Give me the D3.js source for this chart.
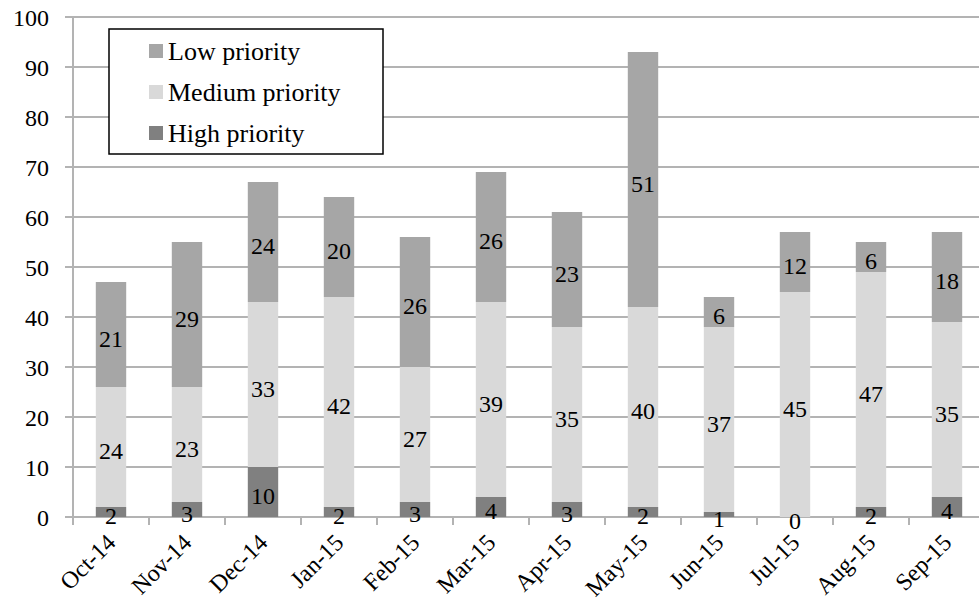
<!DOCTYPE html>
<html>
<head>
<meta charset="utf-8">
<script src="https://cdn.jsdelivr.net/npm/d3@7"></script>
<style>
  @font-face {
    font-family: "ChartSerif";
    src: local("Liberation Serif"), local("LiberationSerif"), local("LiberationSerif-Regular"), local("Times New Roman");
  }
  body { margin: 0; }
  svg { display: block; }
  svg text { font-family: "Liberation Serif", "ChartSerif", "Times New Roman", Tinos, serif !important; }
</style>
</head>
<body>
<svg id="chart" width="979" height="609"></svg>
<script>
// Monthly ticket counts by priority
const months = ["Oct-14","Nov-14","Dec-14","Jan-15","Feb-15","Mar-15","Apr-15","May-15","Jun-15","Jul-15","Aug-15","Sep-15"];
const highPriority   = [2, 3, 10, 2, 3, 4, 3, 2, 1, 0, 2, 4];
const mediumPriority = [24, 23, 33, 42, 27, 39, 35, 40, 37, 45, 47, 35];
const lowPriority    = [21, 29, 24, 20, 26, 26, 23, 51, 6, 12, 6, 18];
const yTicks = [0, 10, 20, 30, 40, 50, 60, 70, 80, 90, 100];

const seriesDefs = [
  { key: "high",   name: "High priority",   values: highPriority,   color: "#808080" },
  { key: "medium", name: "Medium priority", values: mediumPriority, color: "#d9d9d9" },
  { key: "low",    name: "Low priority",    values: lowPriority,    color: "#a6a6a6" }
];

const table = months.map((m, i) => {
  const row = { month: m };
  seriesDefs.forEach(s => row[s.key] = s.values[i]);
  return row;
});

// Ask for the serif face up front so it is ready when labels are laid out
if (document.fonts && document.fonts.load) {
  document.fonts.load('24px "Liberation Serif"');
  document.fonts.load('24px "ChartSerif"');
}

const svg = d3.select("#chart");
const plot = { left: 73, top: 17, bottom: 517, right: 985 };
const gridColor = "#b3b3b3";

const x = d3.scaleBand().domain(months).range([plot.left, plot.right]).paddingInner(0.6).paddingOuter(0.3);
const xOuter = d3.scaleBand().domain(months).range([plot.left, plot.right]).padding(0);
const y = d3.scaleLinear().domain([0, 100]).range([plot.bottom, plot.top]);

function serifText(sel, size) {
  return sel
    .style("font-family", '"Liberation Serif", "ChartSerif", "Times New Roman", Tinos, serif')
    .attr("font-size", size)
    .attr("fill", "#000");
}

// Horizontal gridlines
svg.append("g")
  .selectAll("line")
  .data(yTicks)
  .join("line")
  .attr("x1", plot.left - 8).attr("x2", 979)
  .attr("y1", d => y(d)).attr("y2", d => y(d))
  .attr("stroke", gridColor).attr("stroke-width", 2);

// Y axis line and labels
svg.append("line")
  .attr("x1", plot.left).attr("x2", plot.left).attr("y1", plot.top).attr("y2", plot.bottom + 8)
  .attr("stroke", gridColor).attr("stroke-width", 2);

svg.append("g")
  .selectAll("text")
  .data(yTicks)
  .join("text")
  .attr("x", 49).attr("y", d => y(d))
  .attr("dy", "0.36em")
  .attr("text-anchor", "end")
  .call(serifText, 24)
  .text(d => d);

// Category boundary ticks on the x axis
svg.append("g")
  .selectAll("line")
  .data(months)
  .join("line")
  .attr("x1", d => xOuter(d)).attr("x2", d => xOuter(d))
  .attr("y1", plot.bottom).attr("y2", plot.bottom + 8)
  .attr("stroke", gridColor).attr("stroke-width", 2);

// Stacked bars
const stack = d3.stack().keys(seriesDefs.map(s => s.key));
const stacked = stack(table);

const layers = svg.append("g")
  .selectAll("g")
  .data(stacked)
  .join("g")
  .attr("fill", (d, i) => seriesDefs[i].color);

layers.selectAll("rect")
  .data(d => d)
  .join("rect")
  .attr("x", d => x(d.data.month))
  .attr("width", x.bandwidth())
  .attr("y", d => y(d[1]))
  .attr("height", d => y(d[0]) - y(d[1]));

// Segment value labels
const labelGroup = svg.append("g");
stacked.forEach((layer, li) => {
  labelGroup.append("g")
    .selectAll("text")
    .data(layer)
    .join("text")
    .attr("x", d => x(d.data.month) + x.bandwidth() / 2)
    .attr("y", d => y((d[0] + d[1]) / 2))
    .attr("dy", "0.5em")
    .attr("text-anchor", "middle")
    .call(serifText, 24)
    .text(d => d.data[seriesDefs[li].key]);
});

// Rotated month labels
svg.append("g")
  .selectAll("text")
  .data(months)
  .join("text")
  .attr("transform", d => `translate(${x(d) + x.bandwidth() / 2 + 6},${plot.bottom + 27}) rotate(-45)`)
  .attr("text-anchor", "end")
  .call(serifText, 24)
  .text(d => d);

// Legend
const legend = svg.append("g");
legend.append("rect")
  .attr("x", 109).attr("y", 29).attr("width", 274).attr("height", 125)
  .attr("fill", "#fff").attr("stroke", "#000").attr("stroke-width", 1.5);

const legendItems = [seriesDefs[2], seriesDefs[1], seriesDefs[0]];
const rowY = d3.scalePoint().domain(legendItems.map(s => s.key)).range([51, 133]);

legend.selectAll("rect.swatch")
  .data(legendItems)
  .join("rect")
  .attr("class", "swatch")
  .attr("x", 149).attr("y", d => rowY(d.key) - 7)
  .attr("width", 14).attr("height", 14)
  .attr("fill", d => d.color);

legend.selectAll("text")
  .data(legendItems)
  .join("text")
  .attr("x", 168).attr("y", d => rowY(d.key))
  .attr("dy", "0.33em")
  .call(serifText, 26)
  .text(d => d.name);
</script>
</body>
</html>
